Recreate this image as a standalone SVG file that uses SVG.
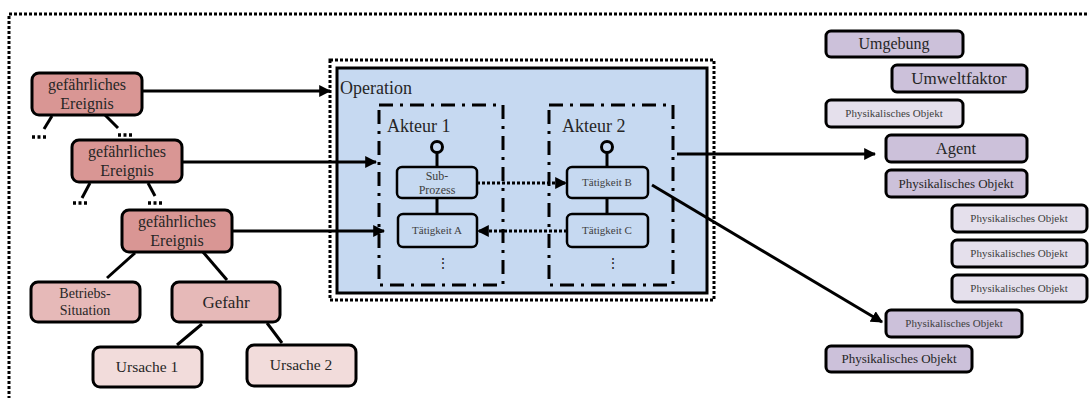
<svg xmlns="http://www.w3.org/2000/svg" width="1089" height="398" viewBox="0 0 1089 398">
<defs>
<style>
text{font-family:"Liberation Serif","Times New Roman",serif;fill:#262626;text-anchor:middle}
.box{stroke:#000;stroke-width:3}
.pk1{fill:#d99694}
.pk2{fill:#e6b9b8}
.pk3{fill:#f2dcdb}
.lv1{fill:#ccc1da}
.lv2{fill:#e5e0ec}
.act{fill:#c6d9f1;stroke:#000;stroke-width:2.5}
.ln{stroke:#000;stroke-width:3;fill:none}
.dot{stroke:#000;stroke-width:3;fill:none;stroke-dasharray:3 2}
.dd{stroke:#000;stroke-width:3;fill:none;stroke-dasharray:14 7 3 7}
.sm{font-size:11px;fill:#404040}
</style>
<marker id="ah" viewBox="0 0 10 10" refX="9" refY="5" markerWidth="4" markerHeight="4" orient="auto" markerUnits="strokeWidth">
<path d="M0,0 L10,5 L0,10 z" fill="#000"/>
</marker>
</defs>
<rect width="1089" height="398" fill="#fff"/>
<rect x="9" y="14" width="1090" height="400" fill="#9bbb59" class="dot"/>

<g id="operation">
<rect x="330" y="60" width="384" height="240" fill="none" class="dot"/>
<rect x="337" y="68" width="370" height="225" fill="#c6d9f1" stroke="#000" stroke-width="3"/>
<text x="340" y="94" style="text-anchor:start;font-size:18px">Operation</text>
</g>
<g id="akteur1">
<rect x="379" y="105" width="124" height="180" class="dd"/>
<text x="387" y="132" style="text-anchor:start;font-size:18px">Akteur 1</text>
<circle cx="437" cy="147" r="5.5" fill="none" stroke="#000" stroke-width="3"/>
<line x1="437" y1="153" x2="437" y2="167" class="ln"/>
<line x1="437" y1="198" x2="437" y2="214" class="ln"/>
<text x="443" y="268" style="font-size:14px">⋮</text>
</g>
<g id="akteur2">
<rect x="549" y="105" width="124" height="180" class="dd"/>
<text x="562" y="132" style="text-anchor:start;font-size:18px">Akteur 2</text>
<circle cx="607" cy="147" r="5.5" fill="none" stroke="#000" stroke-width="3"/>
<line x1="607" y1="153" x2="607" y2="167" class="ln"/>
<line x1="607" y1="198" x2="607" y2="214" class="ln"/>
<text x="613" y="268" style="font-size:14px">⋮</text>
</g>
<g id="subprozess">
<rect x="397" y="167" width="80" height="31" rx="5" class="act"/>
<text x="437" y="180" style="font-size:12px;fill:#404040">Sub-</text>
<text x="437" y="194" style="font-size:12px;fill:#404040">Prozess</text>
</g>
<g id="taetigkeitA">
<rect x="398" y="214" width="79" height="33" rx="5" class="act"/>
<text x="437" y="234" class="sm">Tätigkeit A</text>
</g>
<g id="taetigkeitB">
<rect x="567" y="167" width="81" height="31" rx="5" class="act"/>
<text x="607" y="186" class="sm">Tätigkeit B</text>
</g>
<g id="taetigkeitC">
<rect x="567" y="214" width="81" height="33" rx="5" class="act"/>
<text x="607" y="234" class="sm">Tätigkeit C</text>
</g>

<g id="ereignis1">
<rect x="32" y="73" width="110" height="42" rx="7" class="box pk1"/>
<text x="87" y="90" style="font-size:16px">gefährliches</text>
<text x="87" y="109" style="font-size:16px">Ereignis</text>
</g>
<g id="ereignis2">
<rect x="72" y="140" width="110" height="42" rx="7" class="box pk1"/>
<text x="127" y="157" style="font-size:16px">gefährliches</text>
<text x="127" y="176" style="font-size:16px">Ereignis</text>
</g>
<g id="ereignis3">
<rect x="122" y="210" width="110" height="42" rx="7" class="box pk1"/>
<text x="177" y="227" style="font-size:16px">gefährliches</text>
<text x="177" y="246" style="font-size:16px">Ereignis</text>
</g>
<g id="betriebssituation">
<rect x="31" y="282" width="109" height="40" rx="7" class="box pk2"/>
<text x="85" y="298" style="font-size:14px">Betriebs-</text>
<text x="85" y="315" style="font-size:14px">Situation</text>
</g>
<g id="gefahr">
<rect x="172" y="282" width="108" height="40" rx="7" class="box pk2"/>
<text x="226" y="308" style="font-size:17px">Gefahr</text>
</g>
<g id="ursache1">
<rect x="93" y="347" width="109" height="40" rx="7" class="box pk3"/>
<text x="147" y="372" style="font-size:15.5px">Ursache 1</text>
</g>
<g id="ursache2">
<rect x="247" y="345" width="109" height="41" rx="7" class="box pk3"/>
<text x="301" y="370" style="font-size:15.5px">Ursache 2</text>
</g>

<g id="umgebung">
<rect x="826" y="31" width="137" height="26" rx="5" class="box lv1"/>
<text x="894" y="49" style="font-size:16px">Umgebung</text>
</g>
<g id="umweltfaktor">
<rect x="892" y="65" width="135" height="27" rx="5" class="box lv1"/>
<text x="959" y="84" style="font-size:17px">Umweltfaktor</text>
</g>
<g id="physobj1">
<rect x="826" y="100" width="137" height="27" rx="5" class="box lv2"/>
<text x="894" y="117" class="sm">Physikalisches Objekt</text>
</g>
<g id="agent">
<rect x="886" y="135" width="141" height="27" rx="5" class="box lv1"/>
<text x="956" y="154" style="font-size:16.5px">Agent</text>
</g>
<g id="physobj2">
<rect x="886" y="170" width="141" height="27" rx="5" class="box lv1"/>
<text x="956" y="188" style="font-size:13px">Physikalisches Objekt</text>
</g>
<g id="physobj3">
<rect x="952" y="205" width="135" height="27" rx="5" class="box lv2"/>
<text x="1019" y="222" class="sm">Physikalisches Objekt</text>
</g>
<g id="physobj4">
<rect x="952" y="240" width="135" height="27" rx="5" class="box lv2"/>
<text x="1019" y="257" class="sm">Physikalisches Objekt</text>
</g>
<g id="physobj5">
<rect x="952" y="275" width="135" height="27" rx="5" class="box lv2"/>
<text x="1019" y="292" class="sm">Physikalisches Objekt</text>
</g>
<g id="physobj6">
<rect x="886" y="310" width="136" height="27" rx="5" class="box lv1"/>
<text x="954" y="327" class="sm">Physikalisches Objekt</text>
</g>
<g id="physobj7">
<rect x="826" y="346" width="146" height="26" rx="5" class="box lv1"/>
<text x="899" y="363" style="font-size:13px">Physikalisches Objekt</text>
</g>

<g id="connectors">
<line x1="52" y1="116" x2="44" y2="129" class="ln"/>
<line x1="105" y1="115" x2="118" y2="128" class="ln"/>
<line x1="90" y1="183" x2="82" y2="198" class="ln"/>
<line x1="148" y1="183" x2="155" y2="196" class="ln"/>
<line x1="135" y1="253" x2="107" y2="278" class="ln"/>
<line x1="203" y1="252" x2="227" y2="280" class="ln"/>
<line x1="202" y1="324" x2="177" y2="345" class="ln"/>
<line x1="267" y1="323" x2="282" y2="343" class="ln"/>
<path d="M32,137 h15 M118,135 h15 M73,203 h15 M148,203 h15" stroke="#000" stroke-width="3.5" stroke-dasharray="3 2.5" fill="none"/>
<line x1="142" y1="91" x2="330" y2="91" class="ln" marker-end="url(#ah)"/>
<line x1="182" y1="162" x2="376" y2="162" class="ln" marker-end="url(#ah)"/>
<line x1="232" y1="231" x2="384" y2="231" class="ln" marker-end="url(#ah)"/>
<line x1="477" y1="183" x2="566" y2="183" class="dot" marker-end="url(#ah)"/>
<line x1="567" y1="231" x2="478" y2="231" class="dot" marker-end="url(#ah)"/>
<line x1="677" y1="154" x2="875" y2="154" class="ln" marker-end="url(#ah)"/>
<line x1="652" y1="185" x2="882" y2="322" class="ln" marker-end="url(#ah)"/>
</g>
</svg>
